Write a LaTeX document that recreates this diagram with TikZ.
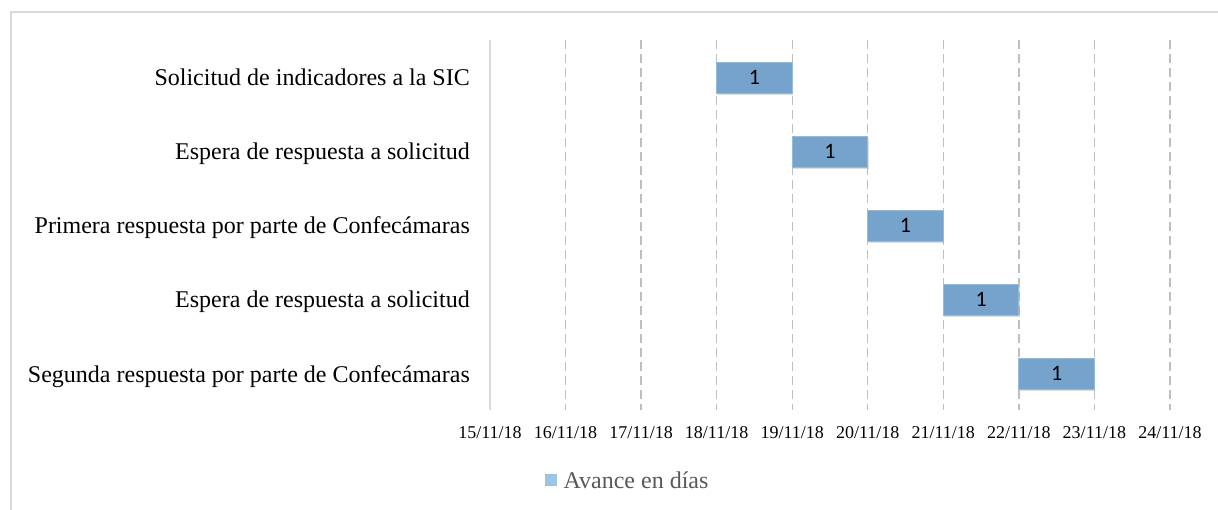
\documentclass[tikz,border=0pt]{standalone}
\usepackage{fontspec}
\setmainfont{Liberation Serif}
\newfontfamily\barfont{Carlito}
\usetikzlibrary{positioning, shadows}

\definecolor{barblue}{RGB}{118,163,203}
\definecolor{barrim}{RGB}{150,186,217}
\definecolor{keyblue}{RGB}{157,195,230}
\definecolor{gridgray}{RGB}{191,191,191}
\definecolor{framegray}{RGB}{217,217,217}
\definecolor{legendgray}{RGB}{89,89,89}

\begin{document}
\begin{tikzpicture}[x=1pt, y=-1pt,
		taskbar/.style={rectangle, draw=barrim, fill=barblue, line width=0.8pt,
			minimum width=75.55pt, minimum height=31pt, inner sep=0pt, outer sep=0pt,
			font=\barfont\fontsize{22}{22}\selectfont,
			drop shadow={shadow xshift=1pt, shadow yshift=-2pt, opacity=0.25}},
		tasklabel/.style={anchor=base east, inner sep=0pt, font=\fontsize{24}{24}\selectfont},
		datelabel/.style={anchor=base, inner sep=0pt, font=\fontsize{18}{18}\selectfont},
		gridline/.style={draw=gridgray, line width=1.3pt, dash pattern=on 9pt off 5pt}
		]
		\useasboundingbox (0,0) rectangle (1218,510);
		\draw[framegray, line width=1.5pt] (11,520) -- (11,12) -- (1230,12);
		
		\foreach \d in {1,...,9}
			\draw[gridline] (490+\d*75.55,40) -- (490+\d*75.55,410);
		\draw[framegray, line width=2pt] (490,40) -- (490,410);
		\foreach \d [count=\i from 0] in {15,...,24}
			\node[datelabel](date\i) at (490+\i*75.55,438){\d/11/18};
		
		\node[tasklabel](task1) at (470,86){Solicitud de indicadores a la SIC\ };
		\node[tasklabel](task2) at (470,160){Espera de respuesta a solicitud};
		\node[tasklabel](task3) at (470,234){Primera respuesta por parte de Confecámaras};
		\node[tasklabel](task4) at (470,308){Espera de respuesta a solicitud};
		\node[tasklabel](task5) at (470,382){Segunda respuesta por parte de Confecámaras};
		
		\node[taskbar, anchor=north west](bar1) at (716.65,62){1};
		\node[taskbar, below right=43pt and 0pt of bar1](bar2){1};
		\node[taskbar, below right=43pt and 0pt of bar2](bar3){1};
		\node[taskbar, below right=43pt and 0pt of bar3](bar4){1};
		\node[taskbar, below right=43pt and 0pt of bar4](bar5){1};
		
		\node[fill=keyblue, minimum size=12pt, inner sep=0pt, anchor=north west](key) at (545,474){};
		\node[right=6pt of key, inner sep=0pt, text=legendgray,
			font=\fontsize{24}{24}\selectfont](keytext){Avance en días};
	\end{tikzpicture}
\end{document}
